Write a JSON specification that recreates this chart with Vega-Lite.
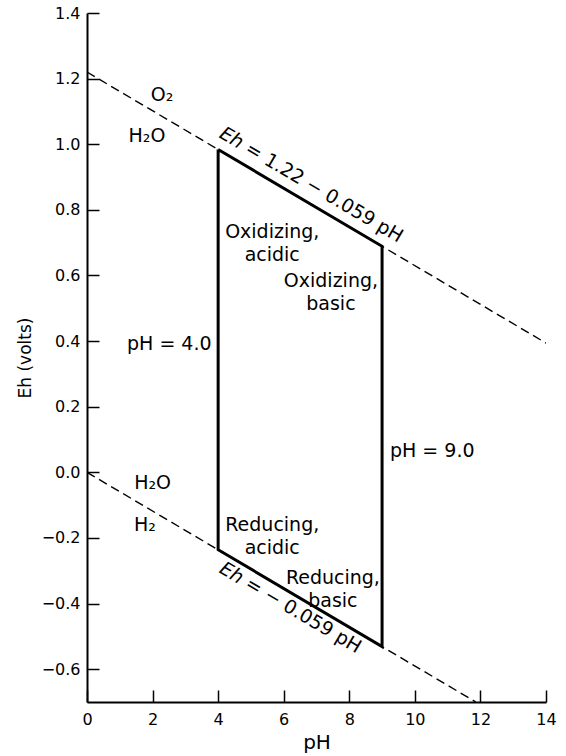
{
  "$schema": "https://vega.github.io/schema/vega-lite/v6.json",
  "width": 459,
  "height": 689,
  "autosize": {"type": "none"},
  "padding": {"left": 87, "top": 13, "right": 20, "bottom": 54},
  "background": "white",
  "config": {
    "view": {"stroke": null},
    "font": "DejaVu Sans",
    "text": {"font": "DejaVu Sans", "fontSize": 19, "color": "black"}
  },
  "datasets": {
    "water": [
      {"boundary": "O2/H2O", "pH": 0, "Eh": 1.22},
      {"boundary": "O2/H2O", "pH": 14, "Eh": 0.394},
      {"boundary": "H2O/H2", "pH": 0, "Eh": 0},
      {"boundary": "H2O/H2", "pH": 11.86, "Eh": -0.7}
    ],
    "field": [
      {"k": 1, "pH": 4, "Eh": 0.984},
      {"k": 2, "pH": 9, "Eh": 0.689},
      {"k": 3, "pH": 9, "Eh": -0.531},
      {"k": 4, "pH": 4, "Eh": -0.236},
      {"k": 5, "pH": 4, "Eh": 0.984}
    ],
    "centerLabels": [
      {"label": "O₂", "pH": 2.29, "Eh": 1.149},
      {"label": "H₂O", "pH": 1.83, "Eh": 1.024},
      {"label": "H₂O", "pH": 2.0, "Eh": -0.034},
      {"label": "H₂", "pH": 1.77, "Eh": -0.162},
      {"label": "Oxidizing,\nacidic", "pH": 5.65, "Eh": 0.734},
      {"label": "Oxidizing,\nbasic", "pH": 7.44, "Eh": 0.582},
      {"label": "Reducing,\nacidic", "pH": 5.65, "Eh": -0.16},
      {"label": "Reducing,\nbasic", "pH": 7.5, "Eh": -0.323}
    ],
    "rightLabels": [{"label": "pH = 4.0", "pH": 3.8, "Eh": 0.39}],
    "leftLabels": [{"label": "pH = 9.0", "pH": 9.24, "Eh": 0.064}],
    "eqEh": [
      {"label": "Eh", "pH": 4.0, "Eh": 1.022},
      {"label": "Eh", "pH": 4.0, "Eh": -0.304}
    ],
    "eqRest": [
      {"label": "= 1.22 − 0.059 pH", "pH": 4.0, "Eh": 1.022},
      {"label": "= − 0.059 pH", "pH": 4.0, "Eh": -0.304}
    ]
  },
  "layer": [
    {
      "data": {"name": "water"},
      "mark": {"type": "line", "strokeDash": [9, 5], "strokeWidth": 1.4, "color": "black", "clip": true},
      "encoding": {
        "x": {
          "field": "pH", "type": "quantitative",
          "scale": {"domain": [0, 14], "nice": false, "zero": false},
          "axis": {
            "title": "pH", "values": [0, 2, 4, 6, 8, 10, 12, 14], "format": "d",
            "grid": false, "tickSize": -12, "tickWidth": 1.5, "tickColor": "black",
            "domainColor": "black", "domainWidth": 2,
            "labelFont": "DejaVu Sans", "labelFontSize": 16, "labelColor": "black",
            "labelPadding": 21, "labelFlush": false, "labelOverlap": false,
            "titleFont": "DejaVu Sans", "titleFontSize": 20, "titleFontWeight": "normal",
            "titleColor": "black", "titlePadding": 5
          }
        },
        "y": {
          "field": "Eh", "type": "quantitative",
          "scale": {"domain": [-0.7, 1.4], "nice": false, "zero": false},
          "axis": {
            "title": "Eh (volts)", "values": [-0.6, -0.4, -0.2, 0, 0.2, 0.4, 0.6, 0.8, 1.0, 1.2, 1.4],
            "format": ".1f",
            "grid": false, "tickSize": -12, "tickWidth": 1.5, "tickColor": "black",
            "domainColor": "black", "domainWidth": 2,
            "labelFont": "DejaVu Sans", "labelFontSize": 16, "labelColor": "black",
            "labelPadding": 19, "labelFlush": false, "labelOverlap": false,
            "titleFont": "DejaVu Sans", "titleFontSize": 17, "titleFontWeight": "normal",
            "titleColor": "black", "titlePadding": 7
          }
        },
        "detail": {"field": "boundary"}
      }
    },
    {
      "data": {"name": "field"},
      "mark": {"type": "line", "strokeWidth": 3, "color": "black", "strokeJoin": "miter"},
      "encoding": {
        "x": {"field": "pH", "type": "quantitative"},
        "y": {"field": "Eh", "type": "quantitative"},
        "order": {"field": "k"}
      }
    },
    {
      "data": {"name": "centerLabels"},
      "mark": {"type": "text", "align": "center", "baseline": "middle", "lineBreak": "\n", "lineHeight": 23},
      "encoding": {
        "x": {"field": "pH", "type": "quantitative"},
        "y": {"field": "Eh", "type": "quantitative"},
        "text": {"field": "label"}
      }
    },
    {
      "data": {"name": "rightLabels"},
      "mark": {"type": "text", "align": "right", "baseline": "middle"},
      "encoding": {
        "x": {"field": "pH", "type": "quantitative"},
        "y": {"field": "Eh", "type": "quantitative"},
        "text": {"field": "label"}
      }
    },
    {
      "data": {"name": "leftLabels"},
      "mark": {"type": "text", "align": "left", "baseline": "middle"},
      "encoding": {
        "x": {"field": "pH", "type": "quantitative"},
        "y": {"field": "Eh", "type": "quantitative"},
        "text": {"field": "label"}
      }
    },
    {
      "data": {"name": "eqEh"},
      "mark": {"type": "text", "align": "left", "baseline": "alphabetic", "angle": 30.5, "fontStyle": "italic"},
      "encoding": {
        "x": {"field": "pH", "type": "quantitative"},
        "y": {"field": "Eh", "type": "quantitative"},
        "text": {"field": "label"}
      }
    },
    {
      "data": {"name": "eqRest"},
      "mark": {"type": "text", "align": "left", "baseline": "alphabetic", "angle": 30.5, "dx": 30},
      "encoding": {
        "x": {"field": "pH", "type": "quantitative"},
        "y": {"field": "Eh", "type": "quantitative"},
        "text": {"field": "label"}
      }
    }
  ]
}
